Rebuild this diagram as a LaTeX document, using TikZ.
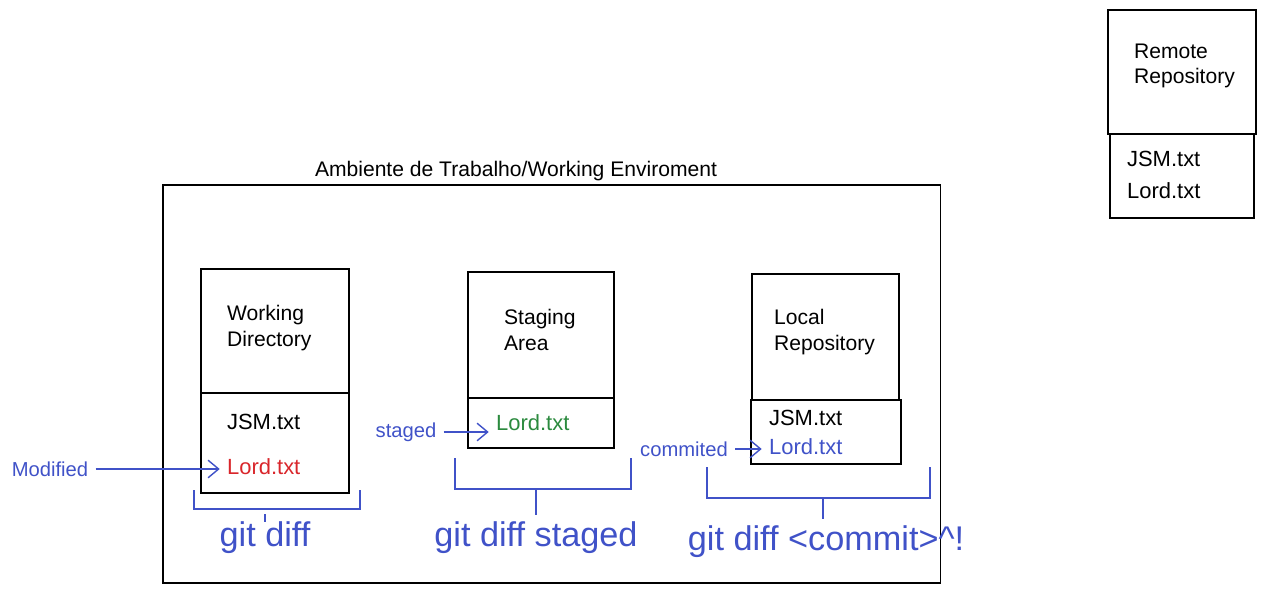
\documentclass[tikz,border=0pt]{standalone}
\usepackage{fontspec}
\setmainfont{Liberation Sans}
\usetikzlibrary{arrows.meta}

\definecolor{sketchblue}{HTML}{4052C8}
\definecolor{sketchred}{HTML}{D9262B}
\definecolor{sketchgreen}{HTML}{2B8A3E}

\begin{document}
\begin{tikzpicture}[x=0.02cm, y=-0.02cm,
  box/.style={draw, line width=0.9pt, inner sep=0pt, anchor=north west},
  name text/.style={anchor=west, align=left, font=\fontsize{12}{14.5}\selectfont, inner sep=1pt},
  file text/.style={anchor=west, font=\fontsize{12.5}{14}\selectfont, inner sep=1pt},
  note text/.style={text=sketchblue, font=\fontsize{11.5}{14}\selectfont, inner sep=1pt},
  cmd text/.style={text=sketchblue, font=\fontsize{19.5}{22}\selectfont, inner sep=1pt},
  note arrow/.style={draw=sketchblue, line width=0.8pt, -{Straight Barb[length=6pt, width=10pt]}, shorten >=3pt, shorten <=3pt},
  brace/.style={draw=sketchblue, line width=0.8pt}]
  \useasboundingbox (0,0) rectangle (1265,591);

  % working environment frame
  \node [box, minimum width=15.56cm, minimum height=7.96cm] (env) at (162,184) {};
  \node [name text, anchor=south] (envname) at (516,183) {Ambiente de Trabalho/Working Enviroment};

  % working directory
  \node [box, minimum width=2.96cm, minimum height=2.48cm] (wdtop) at (200,268) {};
  \node [box, minimum width=2.96cm, minimum height=2.00cm] (wdbot) at (200,392) {};
  \node [name text] (wdname) at (225,328) {Working\\Directory};
  \node [file text] (wdjsm) at (225,422) {JSM.txt};
  \node [file text, text=sketchred] (wdlord) at (225,467) {Lord.txt};

  % staging area
  \node [box, minimum width=2.92cm, minimum height=2.52cm] (satop) at (467,271) {};
  \node [box, minimum width=2.92cm, minimum height=1.00cm] (sabot) at (467,397) {};
  \node [name text] (saname) at (502,330) {Staging\\Area};
  \node [file text, text=sketchgreen] (salord) at (494,423) {Lord.txt};

  % local repository
  \node [box, minimum width=2.94cm, minimum height=2.52cm] (lrtop) at (751,273) {};
  \node [box, minimum width=3.00cm, minimum height=1.28cm] (lrbot) at (750,399) {};
  \node [name text] (lrname) at (772,332) {Local\\Repository};
  \node [file text] (lrjsm) at (767,418) {JSM.txt};
  \node [file text, text=sketchblue] (lrlord) at (767,447) {Lord.txt};

  % remote repository
  \node [box, minimum width=2.96cm, minimum height=2.48cm] (rrtop) at (1107,9) {};
  \node [box, minimum width=2.88cm, minimum height=1.68cm] (rrbot) at (1109,133) {};
  \node [name text] (rrname) at (1132,66) {Remote\\Repository};
  \node [file text] (rrjsm) at (1125,159) {JSM.txt};
  \node [file text] (rrlord) at (1125,191) {Lord.txt};

  % state notes
  \node [note text] (modified) at (50,469) {Modified};
  \node [note text] (staged) at (406,432) {staged};
  \node [note text] (commited) at (684,449) {commited};
  \draw [note arrow] (modified) -- (modified -| wdlord.west);
  \draw [note arrow] (staged) -- (staged -| salord.west);
  \draw [note arrow] (commited) -- (commited -| lrlord.west);

  % diff brackets
  \coordinate (b1a) at (194,490); \coordinate (b1b) at (360,490);
  \coordinate (b1m) at (265,514);
  \draw [brace] (b1a) -- ++(0,19) -| (b1b);
  \draw [brace] (b1m) -- ++(0,8);
  \node [cmd text] (diff1) at (265,538) {git diff};

  \coordinate (b2a) at (455,458); \coordinate (b2b) at (631,458);
  \coordinate (b2m) at (536,489);
  \draw [brace] (b2a) -- ++(0,31) -| (b2b);
  \draw [brace] (b2m) -- ++(0,26);
  \node [cmd text] (diff2) at (536,538) {git diff staged};

  \coordinate (b3a) at (707,467); \coordinate (b3b) at (930,467);
  \coordinate (b3m) at (823,498);
  \draw [brace] (b3a) -- ++(0,31) -| (b3b);
  \draw [brace] (b3m) -- ++(0,21);
  \node [cmd text] (diff3) at (826,542) {git diff <commit>\^{}!};
\end{tikzpicture}
\end{document}
